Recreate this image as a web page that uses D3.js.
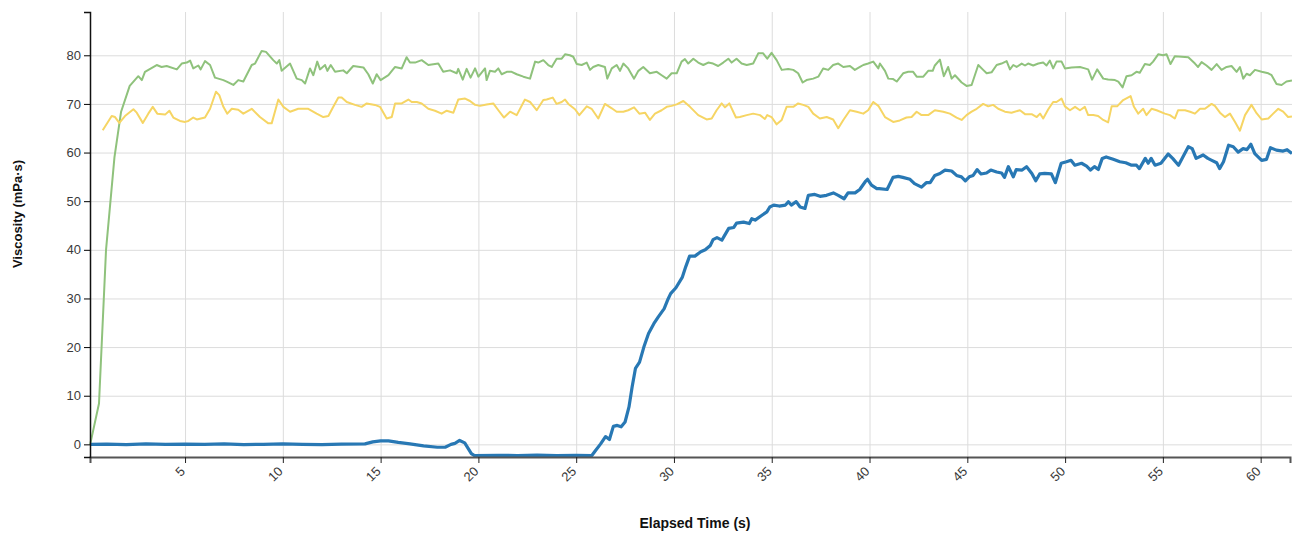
<!DOCTYPE html>
<html>
<head>
<meta charset="utf-8">
<script src="https://cdn.jsdelivr.net/npm/d3@7"></script>
<style>
  body { margin: 0; background: #fff; }
  svg { font-family: "Liberation Sans", Arial, sans-serif; }
  .grid line { stroke: #dcdcdc; stroke-width: 1; }
  .grid path { display: none; }
  .axis text { fill: #3a3a3a; font-size: 13px; }
  .title { font-size: 13px; font-weight: bold; fill: #111; }
</style>
</head>
<body>
<div id="vis"></div>
<script>
// tick labels
var xTicks = [5, 10, 15, 20, 25, 30, 35, 40, 45, 50, 55, 60];
var yTicks = [0, 10, 20, 30, 40, 50, 60, 70, 80];

// green series (s, mPa·s)
var greenTime = [0.15, 0.6, 0.96, 1.39, 1.73, 2.17, 2.61, 2.79, 2.95, 3.55, 3.8, 4.06, 4.58, 4.83, 5.09, 5.26, 5.42, 5.68, 5.8, 6.02, 6.28, 6.53, 6.96, 7.13, 7.47, 7.72, 7.98, 8.41, 8.58, 8.92, 9.14, 9.51, 9.69, 9.82, 9.94, 10.37, 10.71, 10.97, 11.14, 11.39, 11.56, 11.76, 11.9, 12.16, 12.28, 12.45, 12.67, 13.09, 13.27, 13.6, 14.12, 14.37, 14.6, 14.8, 15.0, 15.4, 15.74, 16.08, 16.33, 16.5, 16.76, 17.1, 17.44, 17.95, 18.2, 18.55, 18.89, 18.97, 19.2, 19.4, 19.6, 19.83, 20.0, 20.34, 20.42, 20.59, 20.85, 21.02, 21.19, 21.45, 21.7, 21.96, 22.3, 22.64, 22.9, 23.06, 23.32, 23.57, 23.75, 24.0, 24.26, 24.43, 24.68, 24.85, 25.03, 25.28, 25.54, 25.71, 25.87, 26.13, 26.47, 26.59, 26.82, 27.07, 27.24, 27.41, 27.66, 27.96, 28.18, 28.43, 28.77, 29.12, 29.37, 29.63, 29.88, 30.14, 30.39, 30.56, 30.73, 30.99, 31.24, 31.5, 31.75, 32.0, 32.26, 32.52, 32.78, 32.95, 33.2, 33.46, 33.72, 34.05, 34.31, 34.56, 34.77, 34.99, 35.25, 35.51, 35.84, 36.1, 36.35, 36.58, 36.78, 37.12, 37.38, 37.63, 37.89, 38.14, 38.4, 38.66, 39.0, 39.25, 39.51, 39.68, 39.93, 40.19, 40.45, 40.53, 40.79, 40.96, 41.21, 41.39, 41.72, 41.98, 42.23, 42.41, 42.75, 43.0, 43.23, 43.34, 43.6, 43.8, 44.02, 44.2, 44.37, 44.71, 44.96, 45.22, 45.56, 45.81, 45.99, 46.24, 46.5, 46.75, 47.01, 47.18, 47.35, 47.52, 47.78, 47.95, 48.11, 48.37, 48.63, 48.88, 49.05, 49.22, 49.39, 49.56, 49.82, 49.99, 50.33, 50.76, 51.01, 51.18, 51.38, 51.64, 51.95, 52.2, 52.55, 52.72, 52.94, 53.14, 53.4, 53.65, 53.82, 54.08, 54.33, 54.5, 54.76, 55.01, 55.19, 55.39, 55.61, 55.96, 56.3, 56.64, 56.8, 56.98, 57.23, 57.49, 57.75, 58.0, 58.26, 58.51, 58.77, 58.94, 59.11, 59.28, 59.45, 59.71, 60.05, 60.39, 60.56, 60.81, 61.07, 61.32, 61.6];
var greenVisc = [0, 8.4, 40, 59, 68.4, 73.7, 75.7, 74.9, 76.6, 78, 77.6, 77.8, 77.1, 78.3, 78.5, 78.9, 77.3, 77.9, 77.1, 78.8, 78, 75.4, 74.9, 74.6, 73.9, 74.9, 74.6, 78, 78.3, 80.9, 80.7, 79, 78.3, 79, 76.8, 78.3, 75.2, 74.9, 74.2, 77.3, 75.9, 78.7, 77.1, 78, 76.8, 78, 76.6, 76.9, 76.3, 77.8, 77.5, 76.1, 74.2, 76.1, 74.9, 75.9, 77.6, 77.3, 79.6, 78.5, 78.5, 79, 78, 78.3, 76.6, 76.9, 76.3, 77.2, 75, 77.2, 75.4, 77.3, 75.6, 77.3, 74.9, 76.8, 76.6, 77.3, 76.1, 76.6, 76.6, 76.1, 75.6, 75.2, 78.7, 78.5, 79, 78, 77.6, 79.3, 79.3, 80.2, 80, 79.7, 78.2, 78, 78.5, 77, 77.6, 78, 77.6, 75.2, 77.3, 78, 76.8, 78.3, 77.3, 75.2, 76.8, 77.6, 76.3, 76.6, 75.9, 75.2, 76.3, 76.3, 78.7, 79.2, 78.3, 79.3, 78.5, 78, 78.5, 78.3, 77.8, 78.5, 79.3, 78.5, 79.3, 78.3, 78, 78.3, 80.4, 80.4, 79.3, 80.5, 79, 77, 77.2, 77, 76.3, 74.4, 74.9, 75.2, 75.6, 77.3, 77, 78, 78.3, 77.6, 77.8, 77, 77.6, 78, 78.3, 78.7, 77.3, 78.3, 76.8, 75.2, 75.1, 74.6, 76.3, 76.6, 76.6, 75.6, 75.6, 76.8, 76.8, 77.9, 79.1, 75.7, 77.6, 75.2, 75.9, 74.4, 73.7, 73.9, 78, 77, 76.3, 76.5, 78, 78.3, 78.8, 77.1, 78, 77.6, 78.3, 77.9, 78.3, 77.9, 78.3, 78.5, 77.9, 78.9, 77.3, 78.7, 78.7, 77.3, 77.5, 77.6, 77.3, 77.1, 75, 77.1, 75.2, 75, 74.9, 74.6, 73.4, 75.7, 75.9, 76.6, 76.4, 78.2, 78, 78.7, 80.2, 80, 80.2, 78.2, 79.8, 79.7, 79.6, 78.3, 77.6, 78.6, 77.9, 77, 78.2, 77, 77.6, 77.8, 76.6, 77.6, 75.2, 76.2, 75.9, 77, 76.6, 76.3, 75.9, 74.1, 73.9, 74.6, 74.8];

// yellow series
var yellowTime = [0.79, 1.25, 1.42, 1.64, 1.93, 2.36, 2.53, 2.84, 3.12, 3.35, 3.58, 3.98, 4.2, 4.4, 4.74, 5.0, 5.17, 5.42, 5.6, 6.02, 6.28, 6.58, 6.75, 6.96, 7.16, 7.39, 7.72, 7.98, 8.41, 8.83, 9.26, 9.43, 9.77, 10.03, 10.37, 10.79, 11.3, 11.73, 12.07, 12.33, 12.58, 12.84, 13.01, 13.27, 13.69, 14.03, 14.29, 14.71, 14.97, 15.31, 15.57, 15.74, 16.08, 16.42, 16.59, 16.85, 17.1, 17.44, 17.78, 18.12, 18.38, 18.72, 18.97, 19.32, 19.57, 19.83, 20.08, 20.42, 20.76, 21.02, 21.31, 21.62, 21.96, 22.38, 22.64, 22.98, 23.32, 23.49, 23.8, 24.0, 24.26, 24.43, 24.6, 24.94, 25.16, 25.54, 25.79, 26.13, 26.47, 26.82, 27.07, 27.41, 27.66, 27.96, 28.23, 28.52, 28.77, 29.03, 29.37, 29.63, 29.88, 30.14, 30.48, 30.82, 31.24, 31.67, 31.93, 32.18, 32.44, 32.61, 32.83, 33.17, 33.37, 33.72, 34.05, 34.4, 34.65, 34.77, 34.99, 35.25, 35.51, 35.76, 36.1, 36.35, 36.61, 36.87, 37.12, 37.46, 37.81, 38.14, 38.4, 38.66, 39.0, 39.34, 39.68, 39.93, 40.19, 40.45, 40.79, 41.21, 41.55, 41.89, 42.15, 42.41, 42.66, 43.0, 43.34, 43.77, 44.11, 44.45, 44.71, 44.96, 45.22, 45.48, 45.81, 46.07, 46.32, 46.58, 46.92, 47.26, 47.69, 47.95, 48.29, 48.55, 48.72, 48.88, 49.14, 49.39, 49.56, 49.82, 49.99, 50.25, 50.51, 50.76, 51.01, 51.18, 51.44, 51.69, 51.95, 52.2, 52.38, 52.66, 52.97, 53.35, 53.52, 53.74, 53.99, 54.16, 54.42, 54.68, 55.1, 55.36, 55.61, 55.78, 56.13, 56.39, 56.64, 56.9, 57.15, 57.49, 57.66, 57.92, 58.17, 58.43, 58.69, 58.94, 59.2, 59.53, 59.79, 60.05, 60.39, 60.64, 60.9, 61.15, 61.4, 61.6];
var yellowVisc = [64.6, 67.5, 67.3, 66.1, 67.5, 68.9, 68.2, 66.1, 68, 69.4, 68, 67.8, 68.6, 67.2, 66.5, 66.3, 66.5, 67.2, 66.8, 67.2, 69, 72.5, 71.8, 69.4, 68, 69, 68.8, 68, 69, 67.3, 66, 66, 70.9, 69.4, 68.4, 69, 69, 68, 67.3, 67.5, 69.4, 71.3, 71.3, 70.4, 69.8, 69.4, 70.1, 69.8, 69.4, 67, 67.3, 70.1, 70.1, 70.9, 70.4, 70.4, 70.1, 69, 68.6, 68, 68.6, 68.2, 70.9, 71.1, 70.6, 69.8, 69.6, 69.9, 70.1, 68.7, 67.2, 68.4, 67.7, 70.9, 70.4, 68.7, 70.8, 70.9, 71.3, 70, 70.4, 70.9, 70, 68.9, 67.7, 69.5, 69, 67, 70, 69.1, 68.4, 68.4, 68.7, 69.3, 68, 68.2, 66.7, 68, 68.7, 69.4, 69.6, 69.9, 70.6, 69.4, 67.7, 66.8, 67, 68.7, 70.1, 69.3, 70.1, 67.2, 67.3, 67.7, 68, 67.7, 66.9, 67.7, 67.3, 65.8, 66.7, 69.4, 69.4, 70.1, 69.8, 69.4, 68, 67, 67.3, 66.8, 65, 66.7, 68.7, 68.4, 68, 68.7, 70.4, 69.6, 67.3, 66.3, 66.6, 67.2, 67.3, 68.4, 67.7, 67.7, 68.7, 68.4, 68, 67.2, 66.7, 67.7, 68.4, 69, 70, 69.5, 69.8, 69, 68.4, 68.2, 68.7, 67.9, 67.9, 67.3, 68, 67, 68.9, 70.4, 70.4, 71.1, 69.5, 68.7, 69.4, 68.7, 69.4, 67.7, 67.7, 67.5, 66.7, 66.2, 69.5, 69.5, 70.8, 71.6, 69.4, 68, 69, 67.7, 69, 68.7, 68, 67.7, 67, 68.7, 68.7, 68.4, 68, 69, 69, 70, 69.6, 68.2, 67.3, 68, 66.3, 64.5, 67.7, 69.8, 68.1, 66.8, 67, 68, 69, 68.4, 67.3, 67.4];

// blue series
var blueTime = [0.15, 1, 2, 3, 4, 5, 6, 7, 8, 9, 10, 11, 12, 13, 14.2, 14.6, 15.0, 15.4, 15.9, 16.5, 17.2, 17.9, 18.3, 18.6, 18.8, 19.04, 19.3, 19.64, 19.8, 21, 22, 23, 24, 25, 25.8, 26.0, 26.25, 26.5, 26.7, 26.9, 27.1, 27.3, 27.5, 27.7, 27.86, 28.03, 28.24, 28.46, 28.7, 28.97, 29.2, 29.5, 29.7, 29.83, 30.1, 30.43, 30.6, 30.8, 31.07, 31.37, 31.6, 31.86, 32.0, 32.2, 32.45, 32.8, 33.06, 33.2, 33.56, 33.85, 33.98, 34.15, 34.5, 34.75, 34.9, 35.1, 35.38, 35.7, 35.85, 36.0, 36.25, 36.45, 36.7, 36.87, 37.2, 37.47, 37.8, 38.15, 38.4, 38.7, 38.9, 39.26, 39.5, 39.78, 39.9, 40.1, 40.37, 40.5, 40.9, 41.2, 41.47, 41.7, 42.07, 42.3, 42.66, 42.9, 43.1, 43.34, 43.6, 43.86, 44.2, 44.45, 44.7, 44.9, 45.1, 45.3, 45.5, 45.7, 45.98, 46.2, 46.5, 46.75, 46.9, 47.1, 47.35, 47.5, 47.8, 48.03, 48.3, 48.5, 48.7, 48.96, 49.3, 49.5, 49.8, 50.07, 50.3, 50.5, 50.84, 51.1, 51.3, 51.5, 51.7, 51.9, 52.1, 52.46, 52.8, 53.1, 53.4, 53.65, 53.8, 54.1, 54.25, 54.4, 54.6, 54.9, 55.27, 55.5, 55.8, 56.3, 56.5, 56.7, 57.06, 57.3, 57.5, 57.75, 57.9, 58.1, 58.36, 58.6, 58.85, 59.1, 59.3, 59.5, 59.7, 60.05, 60.3, 60.5, 60.8, 61.15, 61.35, 61.6];
var blueVisc = [0, 0.05, -0.05, 0.1, 0, 0.05, 0, 0.1, -0.05, 0, 0.1, 0, -0.05, 0.05, 0.1, 0.5, 0.7, 0.7, 0.4, 0.1, -0.3, -0.6, -0.6, 0, 0.2, 0.8, 0.3, -1.9, -2.3, -2.25, -2.3, -2.2, -2.3, -2.25, -2.3, -1.2, 0.1, 1.6, 1.0, 3.7, 3.9, 3.6, 4.6, 7.7, 11.8, 15.6, 16.9, 20, 22.8, 24.8, 26.2, 27.9, 29.9, 31, 32.2, 34.4, 36.5, 38.7, 38.7, 39.6, 40, 40.9, 42.1, 42.5, 42, 44.4, 44.6, 45.5, 45.7, 45.4, 46.4, 46.1, 47.1, 47.8, 48.8, 49.2, 49, 49.2, 49.9, 49.2, 49.9, 48.8, 48.5, 51.2, 51.4, 51, 51.2, 51.7, 51.2, 50.5, 51.7, 51.7, 52.4, 54, 54.5, 53.3, 52.6, 52.6, 52.4, 54.9, 55.1, 54.9, 54.5, 53.6, 52.9, 53.8, 53.8, 55.3, 55.7, 56.4, 56.2, 55.3, 55, 54.2, 55, 55.3, 56.5, 55.6, 55.8, 56.4, 56, 55.8, 54.9, 57.1, 55, 56.5, 56.4, 57.1, 55.7, 54.2, 55.6, 55.7, 55.6, 53.8, 57.8, 58.1, 58.4, 57.4, 57.8, 57.2, 56.4, 57.1, 56.5, 58.8, 59.1, 58.6, 58.1, 57.9, 57.4, 57.4, 56.7, 58.8, 57.8, 58.8, 57.4, 57.8, 59.7, 58.8, 57.4, 61.2, 60.8, 58.8, 59.5, 58.8, 58.4, 57.9, 56.7, 58.1, 61.5, 61.2, 60.1, 60.8, 60.6, 61.7, 59.8, 58.4, 58.6, 61, 60.5, 60.3, 60.6, 59.8];

var width = 1292;
var height = 533;
var margin = { top: 12, right: 2, bottom: 76, left: 90 };

var svg = d3.select('#vis')
  .append('svg')
  .attr('width', width)
  .attr('height', height);

var x = d3.scaleLinear()
  .domain([0.14, 61.5])
  .range([margin.left, width - margin.right]);

var y = d3.scaleLinear()
  .domain([-2.6, 88.9])
  .range([height - margin.bottom, margin.top]);

// grid lines
svg.append('g')
  .attr('class', 'grid')
  .attr('transform', 'translate(0,' + (height - margin.bottom) + ')')
  .call(d3.axisBottom(x).tickValues(xTicks).tickSize(-(height - margin.bottom - margin.top)).tickFormat(''));

svg.append('g')
  .attr('class', 'grid')
  .attr('transform', 'translate(' + margin.left + ',0)')
  .call(d3.axisLeft(y).tickValues(yTicks).tickSize(-(width - margin.left)).tickFormat(''));

function series(times, values) {
  return times.map(function (t, i) { return { t: t, v: values[i] }; });
}

var line = d3.line()
  .x(function (d) { return x(d.t); })
  .y(function (d) { return y(d.v); });

var lines = [
  { data: series(greenTime, greenVisc), colour: '#8fc27c', w: 2 },
  { data: series(yellowTime, yellowVisc), colour: '#f6d564', w: 2 },
  { data: series(blueTime, blueVisc), colour: '#2878b4', w: 3.2 }
];

lines.forEach(function (s) {
  svg.append('path')
    .datum(s.data)
    .attr('fill', 'none')
    .attr('stroke', s.colour)
    .attr('stroke-width', s.w)
    .attr('stroke-linejoin', 'round')
    .attr('d', line);
});

// axes
var xAxis = svg.append('g')
  .attr('class', 'axis')
  .attr('transform', 'translate(0,' + (height - margin.bottom) + ')')
  .call(d3.axisBottom(x).tickValues(xTicks));
xAxis.select('.domain').attr('stroke', '#555').attr('stroke-width', 2);
xAxis.selectAll('line').attr('stroke', '#222');
xAxis.selectAll('text')
  .style('text-anchor', 'end')
  .attr('dx', '-.8em')
  .attr('dy', '.15em')
  .attr('transform', 'rotate(-45)');

var yAxis = svg.append('g')
  .attr('class', 'axis')
  .attr('transform', 'translate(' + margin.left + ',0)')
  .call(d3.axisLeft(y).tickValues(yTicks));
yAxis.select('.domain').attr('stroke', '#111').attr('stroke-width', 1.5);

// axis titles
svg.append('text')
  .attr('class', 'title')
  .attr('transform', 'translate(22,214) rotate(-90)')
  .attr('text-anchor', 'middle')
  .text('Viscosity (mPa·s)');

svg.append('text')
  .attr('class', 'title')
  .attr('x', 695)
  .attr('y', 528)
  .attr('text-anchor', 'middle')
  .style('font-size', '14px')
  .text('Elapsed Time (s)');
</script>
</body>
</html>
